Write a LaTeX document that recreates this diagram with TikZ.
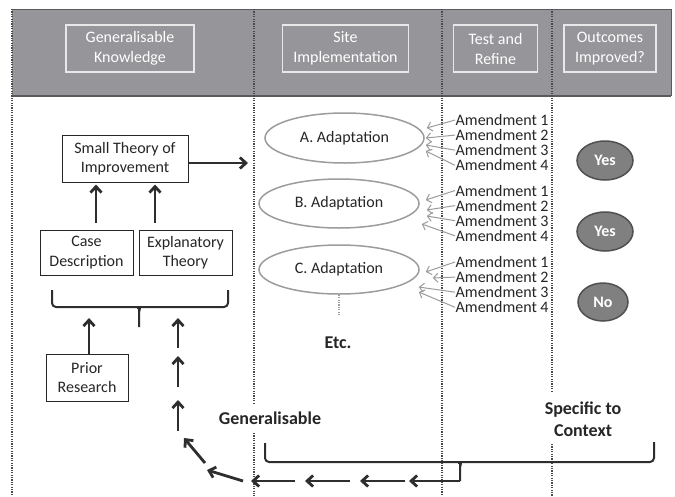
\documentclass[tikz,border=0pt]{standalone}
\usepackage{fontspec}
\setmainfont{Carlito}
\usetikzlibrary{arrows.meta,shapes.geometric}
\definecolor{hdr}{HTML}{96969A}
\definecolor{hdrdark}{HTML}{5A5A5C}
\definecolor{hdrline}{HTML}{E8E8E8}
\definecolor{txt}{HTML}{262626}
\definecolor{arr}{HTML}{2E2E2E}
\definecolor{ellgray}{HTML}{9C9C9C}
\definecolor{divcol}{HTML}{4A4A4A}
\definecolor{outfill}{HTML}{808080}
\definecolor{outline}{HTML}{505050}
\begin{document}
\begin{tikzpicture}[x=1pt,y=-1pt,
  hdrbox/.style={draw=hdrline, line width=1.2pt, text=white, align=center,
    font=\fontsize{16}{20}\selectfont, minimum height=47pt, inner sep=0pt},
  mainbox/.style={draw=txt, line width=1pt, fill=white, text=txt, align=center,
    font=\fontsize{16}{19.5}\selectfont, inner sep=0pt},
  adapt/.style={ellipse, draw=ellgray, line width=1.5pt, text=txt,
    font=\fontsize{16}{19}\selectfont, minimum width=160pt, minimum height=49pt, inner sep=0pt},
  amend/.style={anchor=west, inner sep=0.5pt, text=txt, font=\fontsize{16}{15}\selectfont},
  outc/.style={ellipse, fill=outfill, draw=outline, line width=1.5pt, text=white,
    font=\bfseries\fontsize{16}{19}\selectfont, minimum width=56pt, minimum height=39pt, inner sep=0pt},
  boldlbl/.style={text=txt, align=center, font=\bfseries\fontsize{18}{22}\selectfont, inner sep=0pt},
  bigarrow/.style={draw=arr, line width=2.8pt, -{Straight Barb[length=6pt,width=11pt]}},
  thinarrow/.style={draw=ellgray, line width=1pt, -{Straight Barb[length=4.5pt,width=9pt]}},
  divider/.style={draw=divcol, line width=1.2pt, dash pattern=on 1.2pt off 1.2pt},
  bracepath/.style={draw=arr, line width=2pt, rounded corners=4pt}]
\useasboundingbox (0,0) rectangle (675,496);
\fill[white] (0,0) rectangle (675,496);

% header band
\fill[hdr] (12,9) rectangle (671,96);
\draw[hdrdark, line width=0.8pt] (12,9) -- (671,9) -- (671,96);
\draw[hdrdark, line width=2pt] (12,96) -- (671,96);

% dividers
\draw[divider] (12,9) -- (12,496);
\draw[divider] (254,9) -- (254,403);
\draw[divider] (254,433) -- (254,496);
\draw[divider] (442,9) -- (442,496);
\draw[divider] (552,9) -- (552,392);
\draw[divider] (552,444) -- (552,496);

% header labels
\node[hdrbox, minimum width=128pt] (h1) at (130,48.5) {Generalisable\\Knowledge};
\node[hdrbox, minimum width=126pt] (h2) at (345.5,48.5) {Site\\Implementation};
\node[hdrbox, minimum width=84pt] (h3) at (495.5,48.5) {Test and\\Refine};
\node[hdrbox, minimum width=92pt] (h4) at (610,48.5) {Outcomes\\Improved?};

% left column boxes
\node[mainbox, minimum width=126pt, minimum height=47pt] (small) at (125,158.5) {Small Theory of\\Improvement};
\node[mainbox, minimum width=93pt, minimum height=45pt] (case) at (86.5,252.5) {Case\\Description};
\node[mainbox, minimum width=93pt, minimum height=45pt] (expl) at (185.5,252.5) {Explanatory\\Theory};
\node[mainbox, minimum width=82pt, minimum height=47pt] (prior) at (87,377.5) {Prior\\Research};

% adaptations
\node[adapt, minimum width=159pt, minimum height=50pt] (ellA) at (344.5,138) {A. Adaptation};
\node[adapt] (ellB) at (339,203.5) {B. Adaptation};
\node[adapt] (ellC) at (339,269.5) {C. Adaptation};
\coordinate (etcdot) at (339,316);
\draw[draw=ellgray, line width=1.2pt, dash pattern=on 1.2pt off 1.2pt] (ellC.south) -- (etcdot);
\node[boldlbl] (etc) at (338,343) {Etc.};

% amendments
\foreach \g/\yy in {A/120,B/190.5,C/262}{
  \foreach \i in {1,...,4}{
    \node[amend] (am\g\i) at (455,{\yy+15.1*(\i-1)}) {Amendment \i};
  }
}
\draw[thinarrow] (amA1.west) -- ([xshift=2pt,yshift=10pt]ellA.east);
\draw[thinarrow] (amA2.west) -- ([xshift=1pt,yshift=0pt]ellA.east);
\draw[thinarrow] (amA3.west) -- ([xshift=1pt,yshift=-7pt]ellA.east);
\draw[thinarrow] (amA4.west) -- ([xshift=1pt,yshift=-13pt]ellA.east);
\draw[thinarrow] (amB1.west) -- ([xshift=6pt,yshift=3.5pt]ellB.east);
\draw[thinarrow] (amB2.west) -- ([xshift=7pt,yshift=-6.5pt]ellB.east);
\draw[thinarrow] (amB3.west) -- ([xshift=7pt,yshift=-12.5pt]ellB.east);
\draw[thinarrow] (amB4.west) -- ([xshift=2pt,yshift=-20.5pt]ellB.east);
\draw[thinarrow] (amC1.west) -- ([xshift=6pt,yshift=-2.5pt]ellC.east);
\draw[thinarrow] (amC2.west) -- ([xshift=13pt,yshift=-8.5pt]ellC.east);
\draw[thinarrow] (amC3.west) -- ([xshift=-1pt,yshift=-17.5pt]ellC.east);
\draw[thinarrow] (amC4.west) -- ([xshift=-1pt,yshift=-22.5pt]ellC.east);

% outcomes
\node[outc] (yes1) at (605,160.5) {Yes};
\node[outc] (yes2) at (605,231.5) {Yes};
\node[outc, minimum width=50pt, minimum height=38pt] (no) at (603,302) {No};

% left arrows
\coordinate (smallout) at (248,163);
\draw[bigarrow] ([yshift=-4.5pt]small.east) -- (smallout);
\draw[bigarrow] ([xshift=9.5pt,yshift=7pt]case.north) -- ([xshift=-29pt,yshift=-2pt]small.south);
\draw[bigarrow] ([xshift=-30.5pt,yshift=7pt]expl.north) -- ([xshift=30pt,yshift=-2pt]small.south);

% left brace
\draw[bracepath] (52,290) -- (52,307) -- (134,307) to[out=0,in=90] (139,312) -- (139,327);
\draw[bracepath] (139,312) to[out=90,in=180] (144,307) -- (228,307) -- (228,290);

% prior research arrow
\coordinate (prtip) at (89,318);
\draw[bigarrow] ([xshift=2pt]prior.north) -- (prtip);

% feedback chain
\coordinate (p1) at (178,318);
\coordinate (p2) at (178,348);
\coordinate (p3) at (178,356);
\coordinate (p4) at (178,387);
\coordinate (p5) at (178,400);
\coordinate (p6) at (178,431);
\coordinate (p7) at (184,438);
\coordinate (p8) at (205,463);
\coordinate (p9) at (207,470);
\coordinate (p10) at (243,481);
\coordinate (p11) at (251,481);
\coordinate (p12) at (295,481);
\coordinate (p13) at (305,481);
\coordinate (p14) at (350,481);
\coordinate (p15) at (360,481);
\coordinate (p16) at (405,481);
\coordinate (p17) at (409,481);
\coordinate (btip) at (460,481);
\draw[bigarrow] (p2) -- (p1);
\draw[bigarrow] (p4) -- (p3);
\draw[bigarrow] (p6) -- (p5);
\draw[bigarrow] (p8) -- (p7);
\draw[bigarrow] (p10) -- (p9);
\draw[bigarrow] (p12) -- (p11);
\draw[bigarrow] (p14) -- (p13);
\draw[bigarrow] (p16) -- (p15);

% bottom brace
\draw[bracepath] (265,443) -- (265,462) -- (455,462) to[out=0,in=90] (460,467) -- (btip);
\draw[bracepath] (460,467) to[out=90,in=180] (465,462) -- (654,462) -- (654,442);
\draw[bigarrow] (btip) -- (p17);

% bold labels
\node[boldlbl] (gen) at (270,418) {Generalisable};
\node[boldlbl] (spec) at (583,419) {Specific to\\Context};
\end{tikzpicture}
\end{document}
